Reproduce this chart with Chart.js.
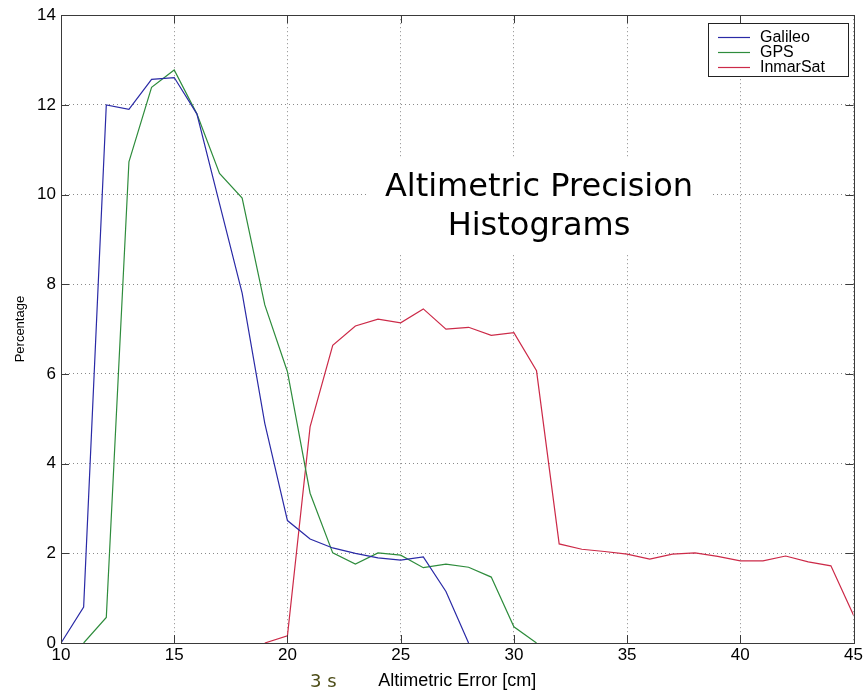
<!DOCTYPE html>
<html>
<head>
<meta charset="utf-8">
<script src="https://cdn.jsdelivr.net/npm/chart.js@4/dist/chart.umd.min.js"></script>
<style>
  html, body { margin: 0; padding: 0; background: #fff; }
</style>
</head>
<body>
<canvas id="chart" width="865" height="693"></canvas>
<script>
// altimetric error bins (cm)
const errorCm = [10, 11, 12, 13, 14, 15, 16, 17, 18, 19, 20, 21, 22, 23, 24, 25, 26, 27,
  28, 29, 30, 31, 32, 33, 34, 35, 36, 37, 38, 39, 40, 41, 42, 43, 44, 45];

// percentage per bin, null = not plotted
const galileo = [0, 0.8, 12.0, 11.9, 12.57, 12.61, 11.8, 9.8, 7.8, 4.9, 2.73, 2.32, 2.12, 2.0,
  1.9, 1.85, 1.92, 1.15, 0, null, null, null, null, null, null, null, null, null, null, null,
  null, null, null, null, null, null];
const gps = [null, 0, 0.57, 10.73, 12.39, 12.78, 11.8, 10.47, 9.92, 7.54, 6.05, 3.34, 2.01, 1.76,
  2.01, 1.96, 1.68, 1.76, 1.69, 1.47, 0.36, 0, null, null, null, null, null, null, null, null,
  null, null, null, null, null, null];
const inmarsat = [null, null, null, null, null, null, null, null, null, 0, 0.16, 4.82, 6.64, 7.07,
  7.22, 7.14, 7.45, 7.0, 7.04, 6.86, 6.92, 6.07, 2.21, 2.09, 2.04, 1.98, 1.87, 1.98, 2.01, 1.93,
  1.83, 1.83, 1.94, 1.81, 1.72, 0.62];

const seriesNames = ["Galileo", "GPS", "InmarSat"];
const seriesColors = ["#2a2aa6", "#2e8c3c", "#cc2a48"];

const xTicks = [10, 15, 20, 25, 30, 35, 40, 45];
const yTicks = [0, 2, 4, 6, 8, 10, 12, 14];

const titleLines = ["Altimetric Precision", "Histograms"];

const toPoints = (values) => errorCm.map((x, i) => ({ x: x, y: values[i] }));

// matlab style frame, inward ticks, text box title, legend and the "3 s" note
const matlabLook = {
  id: "matlabLook",
  beforeDatasetsDraw(chart) {
    const ctx = chart.ctx;
    const cx = 539;
    ctx.save();
    ctx.fillStyle = "#fff";
    ctx.fillRect(cx - 172, 157, 344, 98);
    ctx.fillStyle = "#000";
    ctx.font = "32px 'DejaVu Sans'";
    ctx.textAlign = "center";
    ctx.textBaseline = "middle";
    ctx.fillText(titleLines[0], cx, 188);
    ctx.fillText(titleLines[1], cx, 227);
    ctx.restore();
  },
  afterDraw(chart) {
    const ctx = chart.ctx;
    const a = chart.chartArea;
    const xs = chart.scales.x;
    const ys = chart.scales.y;
    const tl = 8;
    ctx.save();
    ctx.strokeStyle = "#3a3a3a";
    ctx.lineWidth = 1;
    ctx.beginPath();
    xTicks.forEach((v) => {
      const px = Math.round(xs.getPixelForValue(v)) + 0.5;
      ctx.moveTo(px, a.bottom); ctx.lineTo(px, a.bottom - tl);
      ctx.moveTo(px, a.top); ctx.lineTo(px, a.top + tl);
    });
    yTicks.forEach((v) => {
      const py = Math.round(ys.getPixelForValue(v)) + 0.5;
      ctx.moveTo(a.left, py); ctx.lineTo(a.left + tl, py);
      ctx.moveTo(a.right, py); ctx.lineTo(a.right - tl, py);
    });
    ctx.stroke();
    ctx.strokeRect(Math.round(a.left) + 0.5, Math.round(a.top) + 0.5,
      Math.round(a.right - a.left), Math.round(a.bottom - a.top));

    // legend
    const lx = 708, ly = 23, lw = 140, rowH = 15;
    const lh = rowH * seriesNames.length + 8;
    ctx.fillStyle = "#fff";
    ctx.fillRect(lx, ly, lw, lh);
    ctx.strokeStyle = "#222";
    ctx.strokeRect(lx + 0.5, ly + 0.5, lw, lh);
    ctx.font = "16px 'Liberation Sans', Arial, sans-serif";
    ctx.textAlign = "left";
    ctx.textBaseline = "middle";
    chart.data.datasets.forEach((ds, i) => {
      const y = ly + 14 + i * rowH + 0.5;
      ctx.strokeStyle = ds.borderColor;
      ctx.lineWidth = 1.2;
      ctx.beginPath();
      ctx.moveTo(lx + 10, y); ctx.lineTo(lx + 42, y);
      ctx.stroke();
      ctx.fillStyle = "#000";
      ctx.fillText(ds.label, lx + 52, y);
    });

    // note left of the axis label
    ctx.fillStyle = "#4d4d18";
    ctx.font = "18px 'DejaVu Sans'";
    ctx.textAlign = "left";
    ctx.fillText("3 s", 310, 682);
    ctx.restore();
  }
};

new Chart(document.getElementById("chart"), {
  type: "line",
  data: {
    datasets: [galileo, gps, inmarsat].map((values, i) => ({
      label: seriesNames[i],
      data: toPoints(values),
      borderColor: seriesColors[i],
      borderWidth: 1.2,
      pointRadius: 0,
      tension: 0,
      fill: false
    }))
  },
  options: {
    responsive: false,
    animation: false,
    layout: { padding: { top: 15, right: 7, left: 0, bottom: 0 } },
    plugins: {
      legend: { display: false },
      tooltip: { enabled: false }
    },
    scales: {
      x: {
        type: "linear",
        min: 10,
        max: 45,
        afterBuildTicks: (scale) => { scale.ticks = xTicks.map((v) => ({ value: v })); },
        afterFit: (scale) => { scale.height = 50; },
        ticks: {
          color: "#000",
          padding: 2,
          maxRotation: 0,
          font: { family: "'Liberation Sans', Arial, sans-serif", size: 17 }
        },
        grid: { color: "#8a8a8a", lineWidth: 1, drawTicks: false },
        border: { display: false, dash: [1, 3] },
        title: {
          display: true,
          text: "Altimetric Error [cm]",
          color: "#000",
          font: { family: "'Liberation Sans', Arial, sans-serif", size: 18 },
          padding: { top: 0, bottom: 1 }
        }
      },
      y: {
        type: "linear",
        min: 0,
        max: 14,
        afterBuildTicks: (scale) => { scale.ticks = yTicks.map((v) => ({ value: v })); },
        afterFit: (scale) => { scale.width = 61; },
        ticks: {
          color: "#000",
          padding: 5,
          font: { family: "'Liberation Sans', Arial, sans-serif", size: 17 }
        },
        grid: { color: "#8a8a8a", lineWidth: 1, drawTicks: false },
        border: { display: false, dash: [1, 3] },
        title: {
          display: true,
          text: "Percentage",
          color: "#000",
          font: { family: "'Liberation Sans', Arial, sans-serif", size: 13 },
          padding: { top: 13, bottom: 0 }
        }
      }
    }
  },
  plugins: [matlabLook]
});
</script>
</body>
</html>
